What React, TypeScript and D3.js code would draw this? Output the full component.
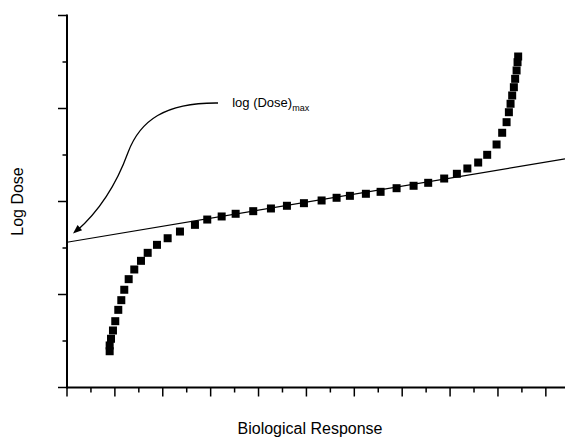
import React from "react";
import * as d3 from "d3";

// Data (x = biological response, y = log dose)
const responseX = [
  0.891, 0.891, 0.919, 0.96, 1.008, 1.071, 1.134, 1.196, 1.288, 1.405, 1.545, 1.685,
  1.879, 2.102, 2.359, 2.672, 2.929, 3.23, 3.522, 3.889, 4.259, 4.593, 4.948, 5.317,
  5.63, 5.908, 6.242, 6.549, 6.883, 7.238, 7.543, 7.877, 8.142, 8.361, 8.587, 8.775,
  8.971, 9.088, 9.18, 9.228, 9.263, 9.297, 9.332, 9.359, 9.389, 9.409, 9.422,
];
const logDoseY = [
  0.39, 0.452, 0.524, 0.613, 0.713, 0.835, 0.939, 1.051, 1.165, 1.269, 1.362, 1.448,
  1.534, 1.605, 1.677, 1.749, 1.806, 1.839, 1.868, 1.896, 1.925, 1.954, 1.982, 2.011,
  2.04, 2.061, 2.083, 2.104, 2.143, 2.169, 2.201, 2.247, 2.298, 2.355, 2.419, 2.502,
  2.613, 2.739, 2.853, 2.96, 3.051, 3.14, 3.229, 3.319, 3.409, 3.498, 3.559,
];

// Fitted straight line
const fitX = [0, 10.4];
const fitY = [1.562, 2.459];

// Annotation arrow: start, then two cubic segments (control, control, end), in data units
const arrowStart = [3.154, 3.059];
const arrowSeg1 = [[2.047, 3.065], [1.525, 2.871], [1.274, 2.527]];
const arrowSeg2 = [[1.023, 2.172], [0.689, 1.903], [0.188, 1.677]];
const arrowTip = [0.125, 1.656];
const annotationPos = [3.45, 3.02];

const xMajor = d3.range(0, 11, 1);
const xMinor = d3.range(0.5, 10, 1);
const yMajor = d3.range(0, 5, 1);
const yMinor = d3.range(0.5, 4, 1);

const W = 565;
const H = 443;

export default function App() {
  const x = d3.scaleLinear().domain([0, 10.4]).range([67, 565]);
  const y = d3.scaleLinear().domain([0, 4]).range([387.5, 15.5]);

  const pts = responseX.map((v, i) => [x(v), y(logDoseY[i])]);
  const fitLine = d3.line()(fitX.map((v, i) => [x(v), y(fitY[i])]) as [number, number][]);

  const P = (p: number[]) => [x(p[0]), y(p[1])];
  const ap = d3.path();
  const s = P(arrowStart);
  ap.moveTo(s[0], s[1]);
  for (const seg of [arrowSeg1, arrowSeg2]) {
    const [c1, c2, e] = seg.map(P);
    ap.bezierCurveTo(c1[0], c1[1], c2[0], c2[1], e[0], e[1]);
  }
  const arrowPath = ap.toString();

  // arrow head
  const tip = P(arrowTip);
  const last = P(arrowSeg2[1]);
  const ang = Math.atan2(tip[1] - last[1], tip[0] - last[0]);
  const hl = 9;
  const hw = 3.5;
  const bx = tip[0] - hl * Math.cos(ang);
  const by = tip[1] - hl * Math.sin(ang);
  const head = `M${tip[0]},${tip[1]} L${bx + hw * Math.sin(ang)},${by - hw * Math.cos(ang)} L${bx - hw * Math.sin(ang)},${by + hw * Math.cos(ang)} Z`;

  const sq = 8;
  const font = "'Liberation Sans', Arial, sans-serif";

  return (
    <svg
      width={W}
      height={H}
      style={{ position: "absolute", left: 0, top: 0, background: "#fff" }}
      fontFamily={font}
    >
      {/* axes */}
      <line x1={x(0)} x2={x(0)} y1={y(4) - 1} y2={y(0) + 1} stroke="#000" strokeWidth={2} />
      <line x1={x(0)} x2={x(10.4)} y1={y(0)} y2={y(0)} stroke="#000" strokeWidth={2} />
      {yMajor.map((t) => (
        <line key={"ym" + t} x1={x(0) - 9} x2={x(0)} y1={y(t)} y2={y(t)} stroke="#000" strokeWidth={1.5} />
      ))}
      {yMinor.map((t) => (
        <line key={"yn" + t} x1={x(0) - 4.5} x2={x(0)} y1={y(t)} y2={y(t)} stroke="#000" strokeWidth={1.5} />
      ))}
      {xMajor.map((t) => (
        <line key={"xm" + t} x1={x(t)} x2={x(t)} y1={y(0)} y2={y(0) + 9} stroke="#000" strokeWidth={1.5} />
      ))}
      {xMinor.map((t) => (
        <line key={"xn" + t} x1={x(t)} x2={x(t)} y1={y(0)} y2={y(0) + 5} stroke="#000" strokeWidth={1.5} />
      ))}

      {/* fit line */}
      <path d={fitLine || ""} stroke="#000" strokeWidth={1.2} fill="none" />

      {/* points */}
      {pts.map((p, i) => (
        <rect key={i} x={p[0] - sq / 2} y={p[1] - sq / 2} width={sq} height={sq} fill="#000" />
      ))}

      {/* annotation */}
      <path d={arrowPath} stroke="#000" strokeWidth={1.3} fill="none" />
      <path d={head} fill="#000" />
      <text x={x(annotationPos[0])} y={y(annotationPos[1])} fontSize={13} fill="#000">
        log (Dose)
        <tspan fontSize={9} dy={4}>max</tspan>
      </text>

      {/* axis titles */}
      <text
        transform={`translate(23,${y(2)}) rotate(-90)`}
        textAnchor="middle"
        fontSize={16}
        fill="#000"
      >
        Log Dose
      </text>
      <text x={310} y={434} textAnchor="middle" fontSize={16} fill="#000">
        Biological Response
      </text>
    </svg>
  );
}
